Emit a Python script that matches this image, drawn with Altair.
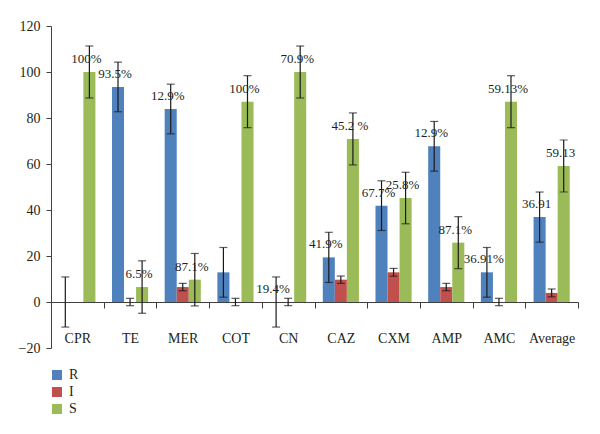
import altair as alt
import pandas as pd

# Resistance profile per antibiotic: R (resistant), I (intermediate), S (sensitive)
categories = ["CPR", "TE", "MER", "COT", "CN", "CAZ", "CXM", "AMP", "AMC", "Average"]
series = ["R", "I", "S"]

r_values = [0, 93.5, 83.9, 12.9, 0, 19.4, 41.9, 67.7, 12.9, 36.91]
i_values = [0, 0, 6.5, 0, 0, 9.7, 12.9, 6.5, 0, 3.96]
s_values = [100, 6.5, 9.7, 87.1, 100, 70.9, 45.2, 25.8, 87.1, 59.13]

r_errors = [10.9, 10.8, 10.8, 10.8, 10.9, 10.9, 10.8, 10.8, 10.8, 10.9]
i_errors = [0, 1.6, 1.6, 1.6, 1.6, 1.6, 1.7, 1.6, 1.6, 1.7]
s_errors = [11.3, 11.4, 11.4, 11.3, 11.3, 11.3, 11.2, 11.3, 11.3, 11.3]

r_labels = ["", "93.5%", "12.9%", "", "19.4%", "41.9%", "67.7%", "12.9%", "36.91%", "36.91"]
i_labels = ["", "", "", "", "", "", "", "", "", ""]
s_labels = ["100%", "6.5%", "87.1%", "100%", "70.9%", "45.2 %", "25.8%", "87.1%", "59.13%", "59.13"]

colors = ["#4F81BD", "#C0504D", "#9BBB59"]

rows = []
for name, vals, errs, labs in [
    ("R", r_values, r_errors, r_labels),
    ("I", i_values, i_errors, i_labels),
    ("S", s_values, s_errors, s_labels),
]:
    for cat, v, e, lab in zip(categories, vals, errs, labs):
        rows.append({"drug": cat, "series": name, "value": v, "err": e,
                     "lo": v - e, "hi": v + e, "label": lab})
df = pd.DataFrame(rows)

FONT = "'Liberation Serif', 'Times New Roman', Times, serif"
INK = "#231f20"

x_enc = alt.X(
    "drug:N",
    sort=categories,
    scale=alt.Scale(paddingInner=0, paddingOuter=0),
    axis=alt.Axis(
        title=None, orient="bottom", offset=-46, tickBand="extent",
        labelPadding=23, tickSize=6, labelAngle=0,
        labelFont=FONT, labelFontSize=14, labelColor=INK,
        domainColor="#404040", tickColor="#404040",
    ),
)
xoff_enc = alt.XOffset(
    "series:N", sort=series,
    scale=alt.Scale(domain=series, paddingInner=0, paddingOuter=0.6875),
)
y_scale = alt.Scale(domain=[-20, 120], nice=False)

base = alt.Chart(df)

bars = base.mark_bar().encode(
    x=x_enc,
    xOffset=xoff_enc,
    y=alt.Y(
        "value:Q", scale=y_scale,
        axis=alt.Axis(
            title=None, values=list(range(-20, 121, 20)), grid=False,
            tickSize=5, labelPadding=6, labelFont=FONT, labelFontSize=14,
            labelColor=INK, domainColor="#404040", tickColor="#404040",
        ),
    ),
    color=alt.Color(
        "series:N", sort=series,
        scale=alt.Scale(domain=series, range=colors),
        legend=alt.Legend(
            title=None, orient="none", legendX=-1, legendY=342,
            direction="vertical", symbolType="square", symbolSize=100,
            symbolStrokeWidth=0, labelFont=FONT, labelFontSize=14,
            labelColor=INK, labelOffset=5, rowPadding=3,
        ),
    ),
)

err_df = base.transform_filter(alt.datum.err > 0)

whiskers = err_df.mark_rule(color="#1a1a1a", strokeWidth=1.2).encode(
    x=alt.X("drug:N", sort=categories),
    xOffset=alt.XOffset("series:N", sort=series),
    y=alt.Y("lo:Q", scale=y_scale),
    y2="hi:Q",
)
cap_lo = err_df.mark_tick(color="#1a1a1a", size=8, thickness=1.2).encode(
    x=alt.X("drug:N", sort=categories),
    xOffset=alt.XOffset("series:N", sort=series),
    y=alt.Y("lo:Q", scale=y_scale),
)
cap_hi = err_df.mark_tick(color="#1a1a1a", size=8, thickness=1.2).encode(
    x=alt.X("drug:N", sort=categories),
    xOffset=alt.XOffset("series:N", sort=series),
    y=alt.Y("hi:Q", scale=y_scale),
)

labels = base.transform_filter(alt.datum.label != "").mark_text(
    font=FONT, fontSize=13, color=INK, dx=-3, dy=-13, baseline="middle",
).encode(
    x=alt.X("drug:N", sort=categories),
    xOffset=alt.XOffset("series:N", sort=series),
    y=alt.Y("value:Q", scale=y_scale),
    text="label:N",
)

chart = (
    alt.layer(bars, whiskers, cap_lo, cap_hi, labels)
    .properties(
        width=527, height=322,
        autosize=alt.AutoSizeParams(type="none"),
        padding={"left": 51, "top": 26, "right": 22, "bottom": 86},
        background="white",
    )
    .configure_view(stroke=None)
)

chart.save("out.html", embed_options={"renderer": "svg", "actions": False})
